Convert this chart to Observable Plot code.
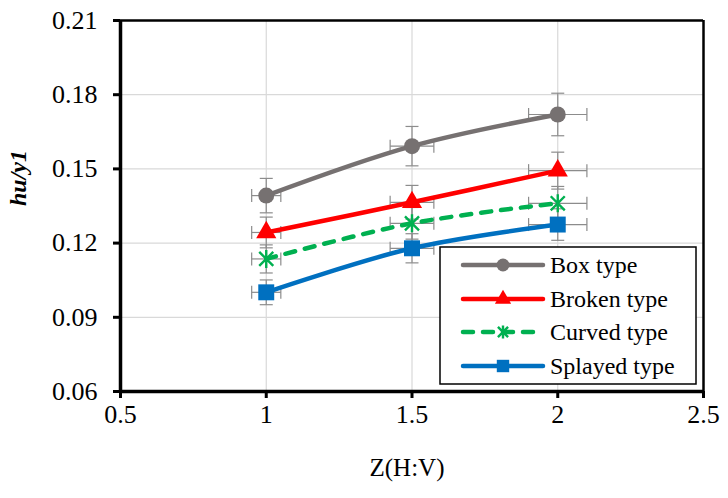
<!DOCTYPE html>
<html>
<head>
<meta charset="utf-8">
<script src="https://cdn.jsdelivr.net/npm/d3@7"></script>
<script src="https://cdn.jsdelivr.net/npm/@observablehq/plot@0.6"></script>
<style>
  html, body { margin: 0; padding: 0; background: white; }
  #chart { width: 728px; height: 498px; }
  #chart svg, #chart svg text { font-family: "Liberation Serif", "Times New Roman", Tinos, Times, "DejaVu Serif", serif; }
</style>
</head>
<body>
<div id="chart"></div>
<script>
// ---- data ----
const zValues = [1, 1.5, 2];
const seriesNames = ["Box type", "Broken type", "Curved type", "Splayed type"];
const boxType = [0.1392, 0.1592, 0.1720];
const brokenType = [0.1243, 0.1365, 0.1493];
const curvedType = [0.1136, 0.1280, 0.1361];
const splayedType = [0.1001, 0.1179, 0.1275];
const seriesColors = ["#767171", "#FF0000", "#00B050", "#0070C0"];
const xTicks = [0.5, 1, 1.5, 2, 2.5];
const yTicks = [0.06, 0.09, 0.12, 0.15, 0.18, 0.21];
const xTickLabels = ["0.5", "1", "1.5", "2", "2.5"];
const yTickLabels = ["0.06", "0.09", "0.12", "0.15", "0.18", "0.21"];
const errorPercent = 0.05; // percentage error bars (x and y)

const seriesValues = [boxType, brokenType, curvedType, splayedType];

// ---- custom symbols ----
const starSymbol = {
  draw(ctx, size) {
    const r = Math.sqrt(size / Math.PI);
    const d = r * 0.78;
    ctx.moveTo(0, -r); ctx.lineTo(0, r);
    ctx.moveTo(-d, -d); ctx.lineTo(d, d);
    ctx.moveTo(-d, d); ctx.lineTo(d, -d);
  }
};
const hCap = {
  draw(ctx, size) {
    const r = Math.sqrt(size / Math.PI);
    ctx.moveTo(-r, 0); ctx.lineTo(r, 0);
  }
};
const vCap = {
  draw(ctx, size) {
    const r = Math.sqrt(size / Math.PI);
    ctx.moveTo(0, -r); ctx.lineTo(0, r);
  }
};

const markerSpecs = [
  {symbol: "circle", r: 8, fill: true},
  {symbol: "triangle", r: 7.5, fill: true},
  {symbol: starSymbol, r: 9, fill: false},
  {symbol: "square", r: 9, fill: true}
];

const rows = seriesNames.flatMap((name, i) =>
  zValues.map((z, j) => ({series: name, idx: i, z, v: seriesValues[i][j]}))
);

const errColor = "#8c8c8c";
const font = '"Liberation Serif", "Times New Roman", Tinos, Times, "DejaVu Serif", serif';

const marks = [
  Plot.gridX(xTicks.slice(1, -1), {stroke: "#d9d9d9", strokeOpacity: 1, strokeWidth: 1.2}),
  Plot.gridY(yTicks.slice(1, -1), {stroke: "#d9d9d9", strokeOpacity: 1, strokeWidth: 1.2}),
  // error bars
  Plot.link(rows, {x1: d => d.z * (1 - errorPercent), x2: d => d.z * (1 + errorPercent), y1: "v", y2: "v", stroke: errColor, strokeWidth: 1.2}),
  Plot.link(rows, {x1: "z", x2: "z", y1: d => d.v * (1 - errorPercent), y2: d => d.v * (1 + errorPercent), stroke: errColor, strokeWidth: 1.2}),
  Plot.dot(rows, {x: "z", y: d => d.v * (1 - errorPercent), symbol: hCap, r: 6.5, stroke: errColor, strokeWidth: 1.2, fill: "none"}),
  Plot.dot(rows, {x: "z", y: d => d.v * (1 + errorPercent), symbol: hCap, r: 6.5, stroke: errColor, strokeWidth: 1.2, fill: "none"}),
  Plot.dot(rows, {x: d => d.z * (1 - errorPercent), y: "v", symbol: vCap, r: 6.5, stroke: errColor, strokeWidth: 1.2, fill: "none"}),
  Plot.dot(rows, {x: d => d.z * (1 + errorPercent), y: "v", symbol: vCap, r: 6.5, stroke: errColor, strokeWidth: 1.2, fill: "none"}),
];

seriesNames.forEach((name, i) => {
  const data = rows.filter(d => d.idx === i);
  marks.push(Plot.line(data, {
    x: "z", y: "v", stroke: seriesColors[i], strokeWidth: 4.5,
    curve: "catmull-rom", strokeLinecap: "round",
    strokeDasharray: name === "Curved type" ? "10,10" : null
  }));
});
seriesNames.forEach((name, i) => {
  const data = rows.filter(d => d.idx === i);
  const m = markerSpecs[i];
  marks.push(Plot.dot(data, m.fill
    ? {x: "z", y: "v", symbol: m.symbol, r: m.r, fill: seriesColors[i], stroke: "none"}
    : {x: "z", y: "v", symbol: m.symbol, r: m.r, fill: "none", stroke: seriesColors[i], strokeWidth: 2.4}));
});

marks.push(
  Plot.ruleX([2.5], {stroke: "black", strokeWidth: 2.5}),
  Plot.ruleY([0.21], {stroke: "black", strokeWidth: 2.5}),
  Plot.ruleX([0.5], {stroke: "black", strokeWidth: 3.5}),
  Plot.ruleY([0.06], {stroke: "black", strokeWidth: 3.5}),
  Plot.axisX(xTicks, {tickSize: 7, strokeWidth: 3, stroke: "black", label: null, text: null}),
  Plot.axisY(yTicks, {tickSize: 7, strokeWidth: 3, stroke: "black", label: null, text: null}),
  Plot.text(xTicks, {x: d => d, text: (d, i) => xTickLabels[i], frameAnchor: "bottom", dy: 31, fontSize: 26, fill: "black"}),
  Plot.text(yTicks, {y: d => d, text: (d, i) => yTickLabels[i], frameAnchor: "left", dx: -23, textAnchor: "end", fontSize: 26, fill: "black"}),
  Plot.text(["Z(H:V)"], {frameAnchor: "bottom", dy: 84, dx: -5, fontSize: 25, fill: "black"}),
  Plot.text(["hu/y1"], {frameAnchor: "left", dx: -102, rotate: -90, fontSize: 24, fontWeight: "bold", fontStyle: "italic", fill: "black"})
);

const chart = Plot.plot({
  width: 728,
  height: 498,
  marginLeft: 120,
  marginRight: 25,
  marginTop: 20,
  marginBottom: 107,
  style: {background: "white", fontFamily: font, fontSize: "24px", color: "black", overflow: "visible"},
  x: {domain: [0.5, 2.5], type: "linear"},
  y: {domain: [0.06, 0.21], type: "linear"},
  marks
});

document.getElementById("chart").appendChild(chart);

// ---- legend (inside the SVG) ----
const svg = d3.select(chart);
const lg = svg.append("g").attr("font-size", 24).attr("text-anchor", "start");
lg.append("rect").attr("x", 440).attr("y", 247).attr("width", 256).attr("height", 137)
  .attr("fill", "white").attr("stroke", "black").attr("stroke-width", 1.5);
const rowY = [265, 299, 332, 366];
const legendR = [6.5, 6, 6.5, 7];
seriesNames.forEach((name, i) => {
  const y = rowY[i];
  lg.append("line").attr("x1", 463).attr("x2", 543).attr("y1", y).attr("y2", y)
    .attr("stroke", seriesColors[i]).attr("stroke-width", 4.5).attr("stroke-linecap", "round")
    .attr("stroke-dasharray", name === "Curved type" ? "10,10" : null);
  const m = markerSpecs[i];
  const symType = typeof m.symbol === "string"
    ? {circle: d3.symbolCircle, triangle: d3.symbolTriangle, square: d3.symbolSquare}[m.symbol]
    : m.symbol;
  const r = legendR[i];
  const path = d3.symbol(symType, r * r * Math.PI)();
  const p = lg.append("path").attr("d", path).attr("transform", `translate(503,${y})`);
  if (m.fill) p.attr("fill", seriesColors[i]);
  else p.attr("fill", "none").attr("stroke", seriesColors[i]).attr("stroke-width", 2.4);
  lg.append("text").attr("x", 550).attr("y", y).attr("dy", "0.35em").attr("fill", "black").text(name);
});
</script>
</body>
</html>
